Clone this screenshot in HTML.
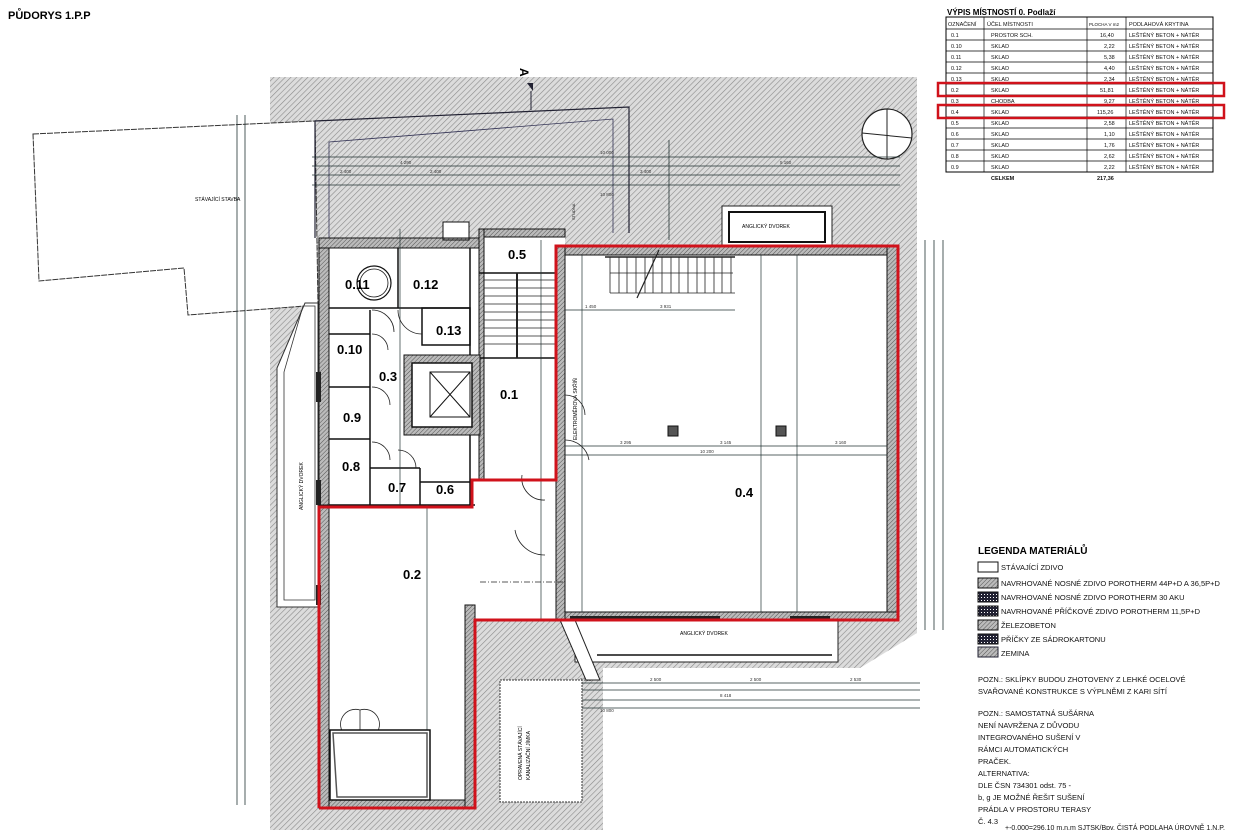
<!DOCTYPE html>
<html><head><meta charset="utf-8"><style>
html,body{margin:0;padding:0;background:#fff;}
svg{display:block;font-family:"Liberation Sans",Arial,sans-serif;}
</style></head><body>
<svg width="1235" height="830" viewBox="0 0 1235 830" xmlns="http://www.w3.org/2000/svg">
<defs>
<pattern id="h" width="4" height="4" patternUnits="userSpaceOnUse" patternTransform="rotate(45)">
<rect width="4" height="4" fill="#dcdcdc"/><line x1="0" y1="0" x2="0" y2="4" stroke="#8a8a8a" stroke-width="1.2"/></pattern>
<pattern id="w" width="3" height="3" patternUnits="userSpaceOnUse" patternTransform="rotate(45)">
<rect width="3" height="3" fill="#bbb"/><line x1="0" y1="0" x2="0" y2="3" stroke="#555" stroke-width="1"/></pattern>
<pattern id="d" width="3" height="3" patternUnits="userSpaceOnUse">
<rect width="3" height="3" fill="#223"/><rect width="1" height="1" fill="#fff"/></pattern>
</defs>
<text x="8" y="19" font-size="11" font-weight="bold">PŮDORYS 1.P.P</text>

<!-- soil hatch -->
<polygon points="270,77 917,77 917,633 860,668 603,668 603,830 270,830" fill="url(#h)"/>
<!-- existing building -->
<polygon points="33,134 315,121 318,305 188,315 184,268 39,281" fill="#fff" stroke="#333" stroke-width="1" stroke-dasharray="6,1"/>
<text x="195" y="201" font-size="5">STÁVAJÍCÍ STAVBA</text>
<!-- left dvorek strip -->
<polygon points="305,303 318,303 318,607 277,607 277,368" fill="#fff" stroke="#333" stroke-width="1"/>
<polygon points="303,306 315,306 315,600 284,600 284,372" fill="none" stroke="#333" stroke-width="0.8"/>
<text x="0" y="0" font-size="5" transform="translate(303,510) rotate(-90)">ANGLICKÝ DVOREK</text>
<!-- thin outlines in hatch -->
<polyline points="315,238 315,121 629,107 629,233" fill="none" stroke="#223" stroke-width="1.2"/>
<polyline points="329,238 329,142 613,119 613,233" fill="none" stroke="#335" stroke-width="0.8"/>
<text x="0" y="0" font-size="4" transform="translate(575,220) rotate(-90)">STUDNA</text>
<!-- A marker -->
<text x="518" y="78" font-size="12" font-weight="bold" transform="rotate(90 524 74)">A</text>
<polygon points="527,83 533,91 533,83" fill="#223"/>
<line x1="531" y1="91" x2="531" y2="110" stroke="#223"/>
<!-- compass -->
<ellipse cx="887" cy="134" rx="25" ry="25" fill="#fff" stroke="#222" stroke-width="1.2"/>
<line x1="887" y1="109" x2="887" y2="159" stroke="#222"/><line x1="862" y1="133" x2="912" y2="138" stroke="#222"/>

<!-- dimension lines -->
<g stroke="#233" stroke-width="0.8">
<line x1="312" y1="157" x2="900" y2="157"/><line x1="312" y1="166" x2="900" y2="166"/>
<line x1="312" y1="175" x2="900" y2="175"/><line x1="312" y1="185" x2="900" y2="185"/>
<line x1="237" y1="115" x2="237" y2="805"/><line x1="245" y1="115" x2="245" y2="805"/>
<line x1="925" y1="240" x2="925" y2="630"/><line x1="934" y1="240" x2="934" y2="630"/><line x1="943" y1="240" x2="943" y2="630"/>
<line x1="560" y1="683" x2="920" y2="683"/><line x1="560" y1="690" x2="920" y2="690"/>
<line x1="560" y1="700" x2="920" y2="700"/><line x1="560" y1="708" x2="920" y2="708"/>
<line x1="669" y1="140" x2="669" y2="240"/>
</g>
<g font-size="4.5" fill="#333">
<text x="600" y="154">10 000</text><text x="400" y="164">4 290</text><text x="780" y="164">5 160</text>
<text x="340" y="173">2 400</text><text x="430" y="173">2 400</text><text x="640" y="173">3 400</text>
<text x="600" y="196">10 800</text><text x="600" y="712">10 800</text><text x="720" y="697">8 418</text>
<text x="650" y="681">2 500</text><text x="580" y="681">2 000</text><text x="750" y="681">2 500</text><text x="850" y="681">2 530</text>
</g>

<!-- top anglicky dvorek -->
<rect x="722" y="206" width="110" height="40" fill="#fff" stroke="#222" stroke-width="1"/>
<rect x="729" y="212" width="96" height="30" fill="#fff" stroke="#111" stroke-width="2"/>
<text x="742" y="228" font-size="5">ANGLICKÝ DVOREK</text>

<!-- building fill -->
<g fill="#fff">
<rect x="319" y="238" width="160" height="270"/>
<rect x="479" y="229" width="86" height="252"/>
<rect x="443" y="222" width="26" height="20"/>
<rect x="556" y="246" width="342" height="374"/>
<rect x="319" y="505" width="156" height="303"/>
<rect x="470" y="478" width="100" height="142"/>
</g>
<g fill="url(#w)" stroke="#111" stroke-width="1">
<rect x="319" y="238" width="10" height="270"/>
<rect x="319" y="238" width="160" height="10"/>
<rect x="479" y="229" width="86" height="8"/>
<rect x="479" y="229" width="5" height="250"/>
<rect x="556" y="246" width="342" height="9"/>
<rect x="887" y="246" width="11" height="374"/>
<rect x="556" y="612" width="342" height="8"/>
<rect x="556" y="246" width="9" height="374"/>
<rect x="319" y="800" width="156" height="8"/>
<rect x="465" y="605" width="10" height="203"/>
<rect x="319" y="505" width="10" height="303"/>
<rect x="443" y="222" width="26" height="18" fill="none"/>
</g>
<rect x="570" y="616" width="150" height="4" fill="#222"/>
<rect x="790" y="616" width="40" height="4" fill="#222"/>
<rect x="316" y="372" width="5" height="30" fill="#222"/><rect x="316" y="480" width="5" height="25" fill="#222"/>
<rect x="316" y="585" width="5" height="20" fill="#222"/>
<rect x="668" y="426" width="10" height="10" fill="#555" stroke="#111"/>
<rect x="776" y="426" width="10" height="10" fill="#555" stroke="#111"/>

<g stroke="#111" stroke-width="1.5" fill="none">
<line x1="398" y1="248" x2="398" y2="308"/>
<line x1="329" y1="308" x2="470" y2="308"/>
<line x1="470" y1="248" x2="470" y2="505"/>
<rect x="422" y="308" width="48" height="37"/>
<line x1="370" y1="310" x2="370" y2="505"/>
<line x1="329" y1="334" x2="370" y2="334"/>
<line x1="329" y1="387" x2="370" y2="387"/>
<line x1="329" y1="439" x2="370" y2="439"/>
<line x1="329" y1="505" x2="475" y2="505"/>
<line x1="370" y1="468" x2="420" y2="468"/>
<line x1="420" y1="468" x2="420" y2="505"/>
<line x1="420" y1="482" x2="470" y2="482"/>
<line x1="479" y1="273" x2="555" y2="273"/>
<line x1="479" y1="358" x2="555" y2="358"/>
</g>
<circle cx="374" cy="283" r="17" fill="none" stroke="#111" stroke-width="1.2"/>
<circle cx="374" cy="283" r="14" fill="none" stroke="#111" stroke-width="0.8"/>
<rect x="404" y="355" width="76" height="80" fill="url(#w)" stroke="#111"/>
<rect x="412" y="363" width="60" height="64" fill="#fff" stroke="#111" stroke-width="1.5"/>
<rect x="430" y="372" width="40" height="45" fill="#fff" stroke="#111"/>
<line x1="430" y1="372" x2="470" y2="417" stroke="#111"/><line x1="470" y1="372" x2="430" y2="417" stroke="#111"/>
<g stroke="#222" stroke-width="0.7">
<line x1="484" y1="280" x2="555" y2="280"/><line x1="484" y1="288" x2="555" y2="288"/><line x1="484" y1="296" x2="555" y2="296"/>
<line x1="484" y1="304" x2="555" y2="304"/><line x1="484" y1="312" x2="555" y2="312"/><line x1="484" y1="320" x2="555" y2="320"/>
<line x1="484" y1="328" x2="555" y2="328"/><line x1="484" y1="336" x2="555" y2="336"/><line x1="484" y1="344" x2="555" y2="344"/>
<line x1="517" y1="273" x2="517" y2="358" stroke-width="2"/>
</g>
<g stroke="#222" stroke-width="0.8">
<line x1="605" y1="257" x2="735" y2="257" stroke-width="1.5"/><line x1="610" y1="293" x2="735" y2="293"/>
<line x1="610" y1="257" x2="610" y2="293"/><line x1="619" y1="257" x2="619" y2="293"/><line x1="627" y1="257" x2="627" y2="293"/>
<line x1="636" y1="257" x2="636" y2="293"/><line x1="645" y1="257" x2="645" y2="293"/><line x1="653" y1="257" x2="653" y2="293"/>
<line x1="662" y1="257" x2="662" y2="293"/><line x1="671" y1="257" x2="671" y2="293"/><line x1="679" y1="257" x2="679" y2="293"/>
<line x1="688" y1="257" x2="688" y2="293"/><line x1="697" y1="257" x2="697" y2="293"/><line x1="705" y1="257" x2="705" y2="293"/>
<line x1="714" y1="257" x2="714" y2="293"/><line x1="722" y1="257" x2="722" y2="293"/><line x1="731" y1="257" x2="731" y2="293"/>
<line x1="610" y1="273" x2="733" y2="273"/><line x1="637" y1="298" x2="659" y2="250" stroke-width="1.2"/>
</g>
<g stroke="#233" stroke-width="0.7">
<line x1="565" y1="446" x2="887" y2="446"/><line x1="565" y1="455" x2="887" y2="455"/>
<line x1="761" y1="255" x2="761" y2="612"/><line x1="797" y1="255" x2="797" y2="612"/>
<line x1="582" y1="255" x2="582" y2="612"/><line x1="565" y1="310" x2="735" y2="310"/>
<line x1="541" y1="240" x2="541" y2="620"/><line x1="427" y1="505" x2="427" y2="800"/>
<line x1="400" y1="229" x2="400" y2="505"/>
</g>
<g font-size="4.5" fill="#333"><text x="620" y="444">3 295</text><text x="720" y="444">3 145</text><text x="835" y="444">3 160</text><text x="700" y="453">10 200</text>
<text x="660" y="308">3 931</text><text x="585" y="308">1 450</text></g>
<text x="0" y="0" font-size="5" transform="translate(577,440) rotate(-90)">ELEKTROMĚROVÁ SKŘÍŇ</text>
<g stroke="#222" stroke-width="0.8" fill="none">
<path d="M372,310 A22,22 0 0 1 394,332"/><path d="M398,310 A24,24 0 0 0 422,334"/>
<path d="M372,442 A18,18 0 0 1 390,460"/><path d="M372,387 A18,18 0 0 1 390,405"/>
<path d="M372,334 A16,16 0 0 1 388,350"/><path d="M398,450 A18,18 0 0 1 416,468"/>
<path d="M522,475 A22,22 0 0 0 545,500"/><path d="M515,530 A30,30 0 0 0 545,555"/>
<path d="M565,440 A24,24 0 0 1 589,460"/><path d="M565,395 A20,20 0 0 1 585,415"/>
<path d="M345,735 A15,15 0 0 1 360,710 L360,735"/><path d="M375,735 A15,15 0 0 0 360,710"/>
<line x1="480" y1="582" x2="565" y2="582" stroke-dasharray="6,2,1,2"/>
</g>
<rect x="330" y="730" width="100" height="70" fill="#fff" stroke="#111" stroke-width="1.5"/>
<polygon points="333,733 427,733 427,797 337,797" fill="none" stroke="#555" stroke-width="1.5"/>
<rect x="575" y="620" width="263" height="42" fill="#fff" stroke="#222"/>
<line x1="597" y1="655" x2="832" y2="655" stroke="#111" stroke-width="1.5"/>
<text x="680" y="635" font-size="5">ANGLICKÝ DVOREK</text>
<polygon points="560,620 575,620 600,680 586,680" fill="#fff" stroke="#222"/>
<rect x="500" y="680" width="82" height="122" fill="#fff" stroke="#333" stroke-dasharray="2,1"/>
<text x="0" y="0" font-size="5" transform="translate(522,780) rotate(-90)">OPRAVENÁ STÁVAJÍCÍ</text>
<text x="0" y="0" font-size="5" transform="translate(530,780) rotate(-90)">KANALIZAČNÍ JÍMKA</text>

<polyline points="319,808 319,507 472,507 472,480 556,480 556,246 898,246 898,620 475,620 475,808 319,808" fill="none" stroke="#d0121b" stroke-width="3"/>

<g font-size="13" font-weight="bold">
<text x="345" y="289">0.11</text><text x="413" y="289">0.12</text><text x="436" y="335">0.13</text>
<text x="337" y="354">0.10</text><text x="379" y="381">0.3</text><text x="343" y="422">0.9</text>
<text x="342" y="471">0.8</text><text x="388" y="492">0.7</text><text x="436" y="494">0.6</text>
<text x="508" y="259">0.5</text><text x="500" y="399">0.1</text><text x="735" y="497">0.4</text><text x="403" y="579">0.2</text>
</g>

<text x="947" y="15" font-size="8" font-weight="bold">VÝPIS MÍSTNOSTÍ  0. Podlaží</text>
<g stroke="#000" stroke-width="0.7" fill="none">
<rect x="946" y="17" width="267" height="155" stroke-width="1"/>
<line x1="984" y1="17" x2="984" y2="172"/><line x1="1087" y1="17" x2="1087" y2="172"/><line x1="1126" y1="17" x2="1126" y2="172"/>
<line x1="946" y1="29" x2="1213" y2="29"/><line x1="946" y1="40" x2="1213" y2="40"/><line x1="946" y1="51" x2="1213" y2="51"/>
<line x1="946" y1="62" x2="1213" y2="62"/><line x1="946" y1="73" x2="1213" y2="73"/><line x1="946" y1="84" x2="1213" y2="84"/>
<line x1="946" y1="95" x2="1213" y2="95"/><line x1="946" y1="106" x2="1213" y2="106"/><line x1="946" y1="117" x2="1213" y2="117"/>
<line x1="946" y1="128" x2="1213" y2="128"/><line x1="946" y1="139" x2="1213" y2="139"/><line x1="946" y1="150" x2="1213" y2="150"/>
<line x1="946" y1="161" x2="1213" y2="161"/>
</g>
<g font-size="5.5" fill="#111">
<text x="948" y="26">OZNAČENÍ</text><text x="987" y="26">ÚČEL MÍSTNOSTI</text><text x="1089" y="26" font-size="4.5">PLOCHA V m2</text><text x="1129" y="26">PODLAHOVÁ KRYTINA</text>
<text x="951" y="37">0.1</text><text x="991" y="37">PROSTOR SCH.</text><text x="1100" y="37">16,40</text><text x="1129" y="37">LEŠTĚNÝ BETON + NÁTĚR</text>
<text x="951" y="48">0.10</text><text x="991" y="48">SKLAD</text><text x="1104" y="48">2,22</text><text x="1129" y="48">LEŠTĚNÝ BETON + NÁTĚR</text>
<text x="951" y="59">0.11</text><text x="991" y="59">SKLAD</text><text x="1104" y="59">5,38</text><text x="1129" y="59">LEŠTĚNÝ BETON + NÁTĚR</text>
<text x="951" y="70">0.12</text><text x="991" y="70">SKLAD</text><text x="1104" y="70">4,40</text><text x="1129" y="70">LEŠTĚNÝ BETON + NÁTĚR</text>
<text x="951" y="81">0.13</text><text x="991" y="81">SKLAD</text><text x="1104" y="81">2,34</text><text x="1129" y="81">LEŠTĚNÝ BETON + NÁTĚR</text>
<text x="951" y="92">0.2</text><text x="991" y="92">SKLAD</text><text x="1100" y="92">51,81</text><text x="1129" y="92">LEŠTĚNÝ BETON + NÁTĚR</text>
<text x="951" y="103">0.3</text><text x="991" y="103">CHODBA</text><text x="1104" y="103">9,27</text><text x="1129" y="103">LEŠTĚNÝ BETON + NÁTĚR</text>
<text x="951" y="114">0.4</text><text x="991" y="114">SKLAD</text><text x="1097" y="114">115,26</text><text x="1129" y="114">LEŠTĚNÝ BETON + NÁTĚR</text>
<text x="951" y="125">0.5</text><text x="991" y="125">SKLAD</text><text x="1104" y="125">2,58</text><text x="1129" y="125">LEŠTĚNÝ BETON + NÁTĚR</text>
<text x="951" y="136">0.6</text><text x="991" y="136">SKLAD</text><text x="1104" y="136">1,10</text><text x="1129" y="136">LEŠTĚNÝ BETON + NÁTĚR</text>
<text x="951" y="147">0.7</text><text x="991" y="147">SKLAD</text><text x="1104" y="147">1,76</text><text x="1129" y="147">LEŠTĚNÝ BETON + NÁTĚR</text>
<text x="951" y="158">0.8</text><text x="991" y="158">SKLAD</text><text x="1104" y="158">2,62</text><text x="1129" y="158">LEŠTĚNÝ BETON + NÁTĚR</text>
<text x="951" y="169">0.9</text><text x="991" y="169">SKLAD</text><text x="1104" y="169">2,22</text><text x="1129" y="169">LEŠTĚNÝ BETON + NÁTĚR</text>
<text x="991" y="180" font-weight="bold">CELKEM</text><text x="1097" y="180" font-weight="bold">217,36</text>
</g>
<rect x="938" y="83" width="286" height="13" fill="none" stroke="#d0121b" stroke-width="2.5"/>
<rect x="938" y="105" width="286" height="13" fill="none" stroke="#d0121b" stroke-width="2.5"/>

<text x="978" y="554" font-size="10" font-weight="bold">LEGENDA MATERIÁLŮ</text>
<rect x="978" y="562" width="20" height="10" fill="#fff" stroke="#111"/>
<rect x="978" y="578" width="20" height="10" fill="url(#w)" stroke="#111"/>
<rect x="978" y="592" width="20" height="10" fill="url(#d)" stroke="#111"/>
<rect x="978" y="606" width="20" height="10" fill="url(#d)" stroke="#111"/>
<rect x="978" y="620" width="20" height="10" fill="url(#w)" stroke="#111"/>
<rect x="978" y="634" width="20" height="10" fill="url(#d)" stroke="#111"/>
<rect x="978" y="647" width="20" height="10" fill="url(#w)" stroke="#223"/>
<g font-size="7.5" fill="#111">
<text x="1001" y="570">STÁVAJÍCÍ ZDIVO</text>
<text x="1001" y="586">NAVRHOVANÉ NOSNÉ ZDIVO POROTHERM 44P+D A 36,5P+D</text>
<text x="1001" y="600">NAVRHOVANÉ NOSNÉ ZDIVO POROTHERM 30 AKU</text>
<text x="1001" y="614">NAVRHOVANÉ PŘÍČKOVÉ ZDIVO POROTHERM 11,5P+D</text>
<text x="1001" y="628">ŽELEZOBETON</text>
<text x="1001" y="642">PŘÍČKY ZE SÁDROKARTONU</text>
<text x="1001" y="656">ZEMINA</text>
<text x="978" y="682">POZN.: SKLÍPKY BUDOU ZHOTOVENY Z LEHKÉ OCELOVÉ</text>
<text x="978" y="694">SVAŘOVANÉ KONSTRUKCE S VÝPLNĚMI Z KARI SÍTÍ</text>
<text x="978" y="716">POZN.: SAMOSTATNÁ SUŠÁRNA</text>
<text x="978" y="728">NENÍ NAVRŽENA Z DŮVODU</text>
<text x="978" y="740">INTEGROVANÉHO SUŠENÍ V</text>
<text x="978" y="752">RÁMCI AUTOMATICKÝCH</text>
<text x="978" y="764">PRAČEK.</text>
<text x="978" y="776">ALTERNATIVA:</text>
<text x="978" y="788">DLE ČSN 734301 odst. 75 -</text>
<text x="978" y="800">b, g JE MOŽNÉ ŘEŠIT SUŠENÍ</text>
<text x="978" y="812">PRÁDLA V PROSTORU TERASY</text>
<text x="978" y="824">Č. 4.3</text>
<text x="1005" y="830" font-size="7">+-0.000=296.10 m.n.m SJTSK/Bpv. ČISTÁ PODLAHA ÚROVNĚ 1.N.P.</text>
</g>
</svg>
</body></html>
